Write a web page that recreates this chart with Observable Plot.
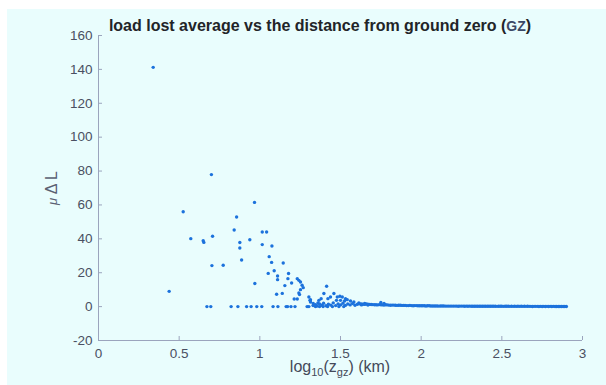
<!DOCTYPE html>
<html>
<head>
<meta charset="utf-8">
<script src="https://cdn.jsdelivr.net/npm/d3@7"></script>
<script src="https://cdn.jsdelivr.net/npm/@observablehq/plot@0.6"></script>
<style>
  html, body { margin: 0; padding: 0; background: #ffffff; }
  #wrap { position: relative; width: 606px; height: 385px; overflow: hidden; }
  #bg { position: absolute; left: 7px; top: 9px; right: 0; bottom: 0; background: #e9fdfd; }
  #chart { position: absolute; left: 0; top: 0; }
</style>
</head>
<body>
<div id="wrap"><div id="bg"></div><div id="chart"></div></div>
<script>
// ---- data (log10 distance from ground zero in km, mean load lost) ----
const xTicks = [0, 0.5, 1, 1.5, 2, 2.5, 3];
const yTicks = [-20, 0, 20, 40, 60, 80, 100, 120, 140, 160];

// scattered near-field points [log10 z, mean loss]
const scatterPoints = [
  [0.339,141.2],[0.438,9.0],[0.525,56.0],[0.572,40.1],[0.649,38.9],[0.653,37.9],
  [0.700,77.9],[0.707,41.5],[0.703,24.2],[0.773,24.4],[0.841,45.2],[0.856,52.9],
  [0.876,37.8],[0.876,34.6],[0.887,27.5],[0.938,39.5],[0.967,61.5],[0.969,13.6],
  [1.015,44.0],[1.042,44.0],[1.015,36.6],[1.075,35.8],[1.058,29.5],[1.073,26.1],
  [1.052,19.6],[1.089,21.2],[1.110,18.1],[1.110,15.9],[1.145,25.7],[1.155,12.4],
  [1.104,7.3],[1.139,7.8],[1.178,19.5],[1.174,16.5],[1.197,13.9],[1.213,4.5],
  [1.232,4.5],[1.232,16.5],[1.242,15.5],[1.252,14.5],[1.262,12.6],[1.269,11.2],
  [1.252,10.0],[1.242,8.0],[1.246,7.1],[1.304,5.7],[1.314,4.1],[1.314,2.7],
  [1.331,1.8],[1.360,2.1],[1.311,3.7],[1.366,3.7],[1.380,4.7],[1.397,7.7],
  [1.414,12.0],[1.422,4.7],[1.438,5.7],[1.459,7.7],[1.480,5.7],[1.496,6.1],
  [1.511,5.7],[1.531,4.7],[1.542,4.1],[1.475,3.7],[1.500,3.7],[1.525,3.3],
  [1.562,3.3],[1.583,2.7],[1.614,2.1],[1.750,2.4],[1.770,1.8]
];

// locations with zero mean loss
const zeroLossX = [0.672,0.696,0.822,0.864,0.918,0.946,0.981,1.012,1.082,1.112,
  1.163,1.172,1.193,1.218,1.293,1.304,1.345,1.370,1.392,1.420,1.450,1.490,1.520];

// dense band just above zero
const nearZeroBand = [
  [1.330,0.6],[1.345,1.2],[1.355,0.4],[1.370,1.5],[1.385,0.8],[1.395,2.0],
  [1.410,0.5],[1.425,1.4],[1.440,0.9],[1.455,2.2],[1.470,0.6],[1.485,1.6],
  [1.500,1.0],[1.515,2.0],[1.530,0.7],[1.545,1.5],[1.560,1.0],[1.575,1.8],
  [1.590,0.8],[1.605,1.4],[1.630,1.0],[1.650,1.9],[1.670,0.9],[1.690,1.3]
];

// far-field tail
const farTail = [
  [1.62,1.6],[1.64,1.4],[1.66,1.5],[1.68,1.3],[1.70,1.2],[1.72,1.1],[1.74,1.2],
  [1.76,1.0],[1.78,1.1],[1.80,0.9],[1.82,0.9],[1.84,0.8],[1.86,0.8],[1.88,0.7],
  [1.90,0.7],[1.92,0.6],[1.94,0.6],[1.96,0.6],[1.98,0.5],[2.00,0.5],[2.02,0.5],
  [2.04,0.5],[2.06,0.4],[2.08,0.4],[2.10,0.4],[2.12,0.4],[2.14,0.4],[2.16,0.3],
  [2.18,0.3],[2.20,0.3],[2.22,0.3],[2.24,0.3],[2.26,0.3],[2.28,0.3],[2.30,0.3],
  [2.32,0.25],[2.34,0.25],[2.36,0.25],[2.38,0.25],[2.40,0.25],[2.42,0.2],[2.44,0.2],
  [2.46,0.2],[2.48,0.2],[2.50,0.2],[2.52,0.2],[2.54,0.2],[2.56,0.2],[2.58,0.2],
  [2.60,0.2],[2.62,0.2],[2.64,0.2],[2.66,0.2],[2.68,0.15],[2.70,0.15],[2.72,0.15],
  [2.74,0.15],[2.76,0.15],[2.78,0.15],[2.80,0.15],[2.82,0.15],[2.84,0.1],[2.86,0.1],
  [2.88,0.1],[2.90,0.1]
];

// further far-field stations between those above
const farTailExtra = [
  [1.63,1.5],[1.65,1.3],[1.67,1.4],[1.69,1.2],[1.71,1.1],[1.73,1.0],[1.75,1.1],
  [1.77,0.9],[1.79,1.0],[1.81,0.8],[1.83,0.9],[1.85,0.7],[1.87,0.8],[1.89,0.7],
  [1.91,0.6],[1.93,0.7],[1.95,0.5],[1.97,0.6],[1.99,0.5],[2.01,0.5],[2.03,0.4],
  [2.05,0.5],[2.07,0.4],[2.09,0.4],[2.11,0.3],[2.13,0.4],[2.15,0.3],[2.17,0.3],
  [2.19,0.3],[2.21,0.3],[2.23,0.25],[2.25,0.3],[2.27,0.25],[2.29,0.25],[2.31,0.25],
  [2.33,0.2],[2.35,0.25],[2.37,0.2],[2.39,0.2],[2.41,0.2],[2.43,0.2],[2.45,0.2],
  [2.47,0.15],[2.49,0.2],[2.51,0.15],[2.53,0.2],[2.55,0.15],[2.57,0.15],[2.59,0.15],
  [2.61,0.15],[2.63,0.15],[2.65,0.15],[2.67,0.15],[2.69,0.1],[2.71,0.15],[2.73,0.1],
  [2.75,0.1],[2.77,0.1],[2.79,0.1],[2.81,0.1],[2.83,0.1],[2.85,0.1],[2.87,0.1],
  [2.89,0.1]
];

const allPoints = [
  ...scatterPoints,
  ...zeroLossX.map(x => [x, 0]),
  ...nearZeroBand,
  ...farTail,
  ...farTailExtra
];

const axisColor = "#9ba4bd";
const textColor = "#4a5062";
const dotColor = "#1c72dc";
const fontFamily = "'Liberation Sans', Arial, Helvetica, sans-serif";

const plot = Plot.plot({
  width: 606,
  height: 385,
  marginLeft: 98,
  marginRight: 24,
  marginTop: 35,
  marginBottom: 45,
  style: { background: "transparent", fontFamily, fontSize: "13px", overflow: "visible" },
  x: { domain: [0, 3], label: null },
  y: { domain: [-20, 160], label: null },
  marks: [
    Plot.ruleX([0], { stroke: axisColor, strokeWidth: 1 }),
    Plot.ruleY([-20], { stroke: axisColor, strokeWidth: 1 }),
    Plot.axisY(yTicks, { tickSize: 4, dx: 4, fill: "none", stroke: axisColor, label: null }),
    Plot.axisY(yTicks, { tickSize: 0, tickPadding: 6, fill: textColor, label: null, fontSize: 13.5, tickFormat: d => String(d) }),
    Plot.axisX(xTicks, { tickSize: 4, dy: -4, fill: "none", stroke: axisColor, label: null }),
    Plot.axisX(xTicks, { tickSize: 0, tickPadding: 8, fill: textColor, label: null, fontSize: 13.5, tickFormat: d => String(d) }),
    Plot.dot(allPoints, { x: d => d[0], y: d => d[1], r: 1.7, fill: dotColor, stroke: "none" })
  ]
});

document.getElementById("chart").appendChild(plot);

const svg = d3.select(plot);

// title
const title = svg.append("text")
  .attr("x", 320).attr("y", 31)
  .attr("text-anchor", "middle")
  .attr("font-family", fontFamily)
  .attr("font-size", 16)
  .attr("font-weight", "bold")
  .attr("fill", "#222428");
title.append("tspan").text("load lost average vs the distance from ground zero (");
title.append("tspan").attr("fill", "#3b4866").attr("font-size", 14).text("GZ");
title.append("tspan").text(")");

// y label
const yl = svg.append("text")
  .attr("transform", "translate(57,188) rotate(-90)")
  .attr("text-anchor", "middle")
  .attr("font-family", fontFamily)
  .attr("fill", "#5a6072")
  .attr("font-size", 16);
yl.append("tspan").attr("font-style", "italic").attr("font-size", 13).text("μ");
yl.append("tspan").text(" Δ L");

// x label
const xl = svg.append("text")
  .attr("x", 340).attr("y", 372)
  .attr("text-anchor", "middle")
  .attr("font-family", fontFamily)
  .attr("fill", "#444a5a")
  .attr("font-size", 16);
xl.append("tspan").text("log");
xl.append("tspan").attr("font-size", 11).attr("dy", 4).text("10");
xl.append("tspan").attr("dy", -4).text("(z");
xl.append("tspan").attr("font-size", 11).attr("dy", 4).text("gz");
xl.append("tspan").attr("dy", -4).text(") (km)");
</script>
</body>
</html>
